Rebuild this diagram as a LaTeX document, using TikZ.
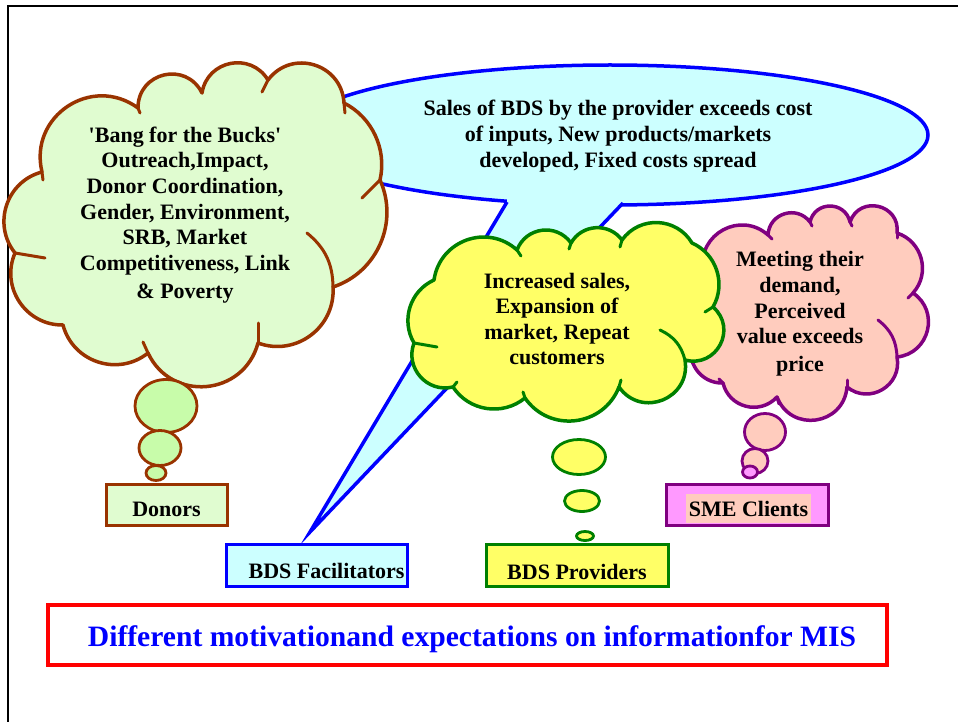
\documentclass[tikz,border=0pt]{standalone}
\usepackage{fontspec}
\setmainfont{Liberation Serif}
\definecolor{donorline}{HTML}{993300}
\definecolor{donorfill}{HTML}{E0FCD0}
\definecolor{donorbubble}{HTML}{C8FCAA}
\definecolor{speechline}{HTML}{0000FF}
\definecolor{speechfill}{HTML}{CCFFFF}
\definecolor{provline}{HTML}{008000}
\definecolor{provfill}{HTML}{FFFF66}
\definecolor{smeline}{HTML}{800080}
\definecolor{smefill}{HTML}{FFCCBE}
\definecolor{smebox}{HTML}{FF99FF}
\definecolor{titleline}{HTML}{FF0000}
\definecolor{titletext}{HTML}{0000FF}
\begin{document}
\begin{tikzpicture}[x=1pt,y=-1pt,
  % bumps of the cloud outlines, named by their depth
  sag18/.style={bend left=38,looseness=0.95},
  sag22/.style={bend left=48,looseness=1.02},
  sag27/.style={bend left=57,looseness=1.10},
  sag30/.style={bend left=62,looseness=1.16},
  sag35/.style={bend left=70,looseness=1.27},
  sag40/.style={bend left=77,looseness=1.40},
  sag45/.style={bend left=84,looseness=1.54},
  puffline/.style={line width=3.5pt,line join=round},
  crease/.style={line width=3pt,line cap=round},
  bubble/.style={line width=2.8pt},
  cloudtext/.style={font=\fontsize{22}{25.6}\selectfont\bfseries,align=center,inner sep=0pt},
  labeltext/.style={font=\fontsize{22}{25.6}\selectfont\bfseries,inner sep=0pt},
  boxshape/.style={rectangle,line width=3.2pt,inner sep=0pt,minimum height=41pt}]
\useasboundingbox (0,0) rectangle (958,722);

% page frame
\draw[line width=2pt] (8,722) -- (8,6) -- (958,6);

% speech callout of the facilitators
\coordinate (tailL) at (507,202);
\coordinate (tailTip) at (310,532);
\coordinate (tailR) at (623,203);
\draw[line width=3.5pt,draw=speechline,fill=speechfill] (610,135) ellipse [x radius=318pt,y radius=70pt];
\fill[speechfill] (507,190) -- (tailL) -- (tailTip) -- (tailR) -- (623,190) -- cycle;
\draw[line width=3.5pt,draw=speechline] (tailL) -- (tailTip) -- (tailR);

% donors cloud
\coordinate (dA) at (138,108);
\coordinate (dB) at (202,93);
\coordinate (dC) at (268,80);
\coordinate (dD) at (344,103);
\coordinate (dE) at (380,180);
\coordinate (dF) at (333,287);
\coordinate (dG) at (258,343);
\coordinate (dH) at (148,353);
\coordinate (dI) at (63,325);
\coordinate (dJ) at (15,253);
\coordinate (dK) at (42,172);
\draw[puffline,draw=donorline,fill=donorfill]
  (dA) to[sag40] (dB) to[sag35] (dC) to[sag35] (dD) to[sag18] (dE)
  to[sag22] (dF) to[sag27] (dG) to[sag35] (dH) to[sag27] (dI)
  to[sag27] (dJ) to[sag27] (dK) to[sag35] (dA) -- cycle;
\draw[crease,donorline] (307,233) to[bend left=25] (dF);
\draw[crease,donorline] (dE) -- (362,198);
\draw[crease,donorline] (dG) -- (258,323);
\draw[crease,donorline] (dH) -- (143,342);
\draw[crease,donorline] (dJ) -- (45,258);
\draw[crease,donorline] (dD) -- (345,113);
\draw[crease,donorline] (dC) -- (262,92);
\draw[crease,donorline] (dA) -- (140,113);
\draw[crease,donorline] (dK) -- (43,180);

% SME clients cloud
\coordinate (pA) at (768,235);
\coordinate (pB) at (810,222);
\coordinate (pC) at (850,222);
\coordinate (pD) at (897,233);
\coordinate (pE) at (913,293);
\coordinate (pF) at (897,357);
\coordinate (pG) at (847,387);
\coordinate (pH) at (777,397);
\coordinate (pI) at (723,383);
\coordinate (pJ) at (693,340);
\coordinate (pK) at (703,270);
\draw[puffline,draw=smeline,fill=smefill]
  (pA) to[sag35] (pB) to[sag40] (pC) to[sag45] (pD) to[sag27] (pE)
  to[sag35] (pF) to[sag35] (pG) to[sag40] (pH) to[sag30] (pI)
  to[sag27] (pJ) to[sag35] (pK) to[sag35] (pA) -- cycle;
\draw[crease,smeline] (878,320) to[bend left=25] (pF);
\draw[crease,smeline] (pA) -- (772,239);
\draw[crease,smeline] (pB) -- (812,226);
\draw[crease,smeline] (pC) -- (852,226);
\draw[crease,smeline] (pD) -- (897,238);
\draw[crease,smeline] (pE) -- (908,298);
\draw[crease,smeline] (pG) -- (847,380);
\draw[crease,smeline] (pH) -- (779,404);
\draw[crease,smeline] (pI) -- (719,379);

% BDS providers cloud
\coordinate (yA) at (517,250);
\coordinate (yB) at (571,243);
\coordinate (yC) at (622,240);
\coordinate (yD) at (692,243);
\coordinate (yE) at (713,307);
\coordinate (yF) at (685,360);
\coordinate (yG) at (619,387);
\coordinate (yH) at (525,398);
\coordinate (yI) at (453,387);
\coordinate (yJ) at (414,343);
\coordinate (yK) at (434,280);
\draw[puffline,draw=provline,fill=provfill]
  (yA) to[sag30] (yB) to[sag27] (yC) to[sag27] (yD) to[sag22] (yE)
  to[sag40] (yF) to[sag40] (yG) to[sag30] (yH) to[sag22] (yI)
  to[sag30] (yJ) to[sag22] (yK) to[sag30] (yA) -- cycle;
\draw[crease,provline] (660,330) to[bend left=25] (yF);
\draw[crease,provline] (yA) -- (521,256);
\draw[crease,provline] (yB) -- (569,249);
\draw[crease,provline] (yC) -- (620,247);
\draw[crease,provline] (yE) -- (705,312);
\draw[crease,provline] (yG) -- (621,380);
\draw[crease,provline] (yH) -- (523,392);
\draw[crease,provline] (yI) -- (457,382);
\draw[crease,provline] (yJ) -- (437,347);

% texts inside the clouds
\node[cloudtext] (donorsText) at (185,215)
  {\textquotesingle Bang for the Bucks\textquotesingle\\Outreach,Impact,\\Donor Coordination,\\Gender, Environment,\\SRB, Market\\Competitiveness, Link\\[2.5pt]\& Poverty};
\node[cloudtext] (facText) at (618,136)
  {Sales of BDS by the provider exceeds cost\\of inputs, New products/markets\\developed, Fixed costs spread};
\node[cloudtext] (provText) at (557,319)
  {Increased sales,\\Expansion of\\market, Repeat\\customers};
\node[cloudtext] (smeText) at (800,314)
  {Meeting their\\demand,\\Perceived\\value exceeds\\[2.5pt]price};

% thought bubbles
\draw[bubble,draw=donorline,fill=donorbubble] (166,406) ellipse [x radius=31pt,y radius=26.5pt];
\draw[bubble,draw=donorline,fill=donorbubble] (160,448) ellipse [x radius=21pt,y radius=17.5pt];
\draw[bubble,draw=donorline,fill=donorbubble] (156,473) ellipse [x radius=10pt,y radius=7.5pt];
\draw[bubble,draw=provline,fill=provfill] (579,457) ellipse [x radius=26.5pt,y radius=17.5pt];
\draw[bubble,draw=provline,fill=provfill] (582,501) ellipse [x radius=17.5pt,y radius=10.5pt];
\draw[bubble,draw=provline,fill=provfill] (585,536) ellipse [x radius=8.5pt,y radius=4.5pt];
\draw[bubble,draw=smeline,fill=smefill] (765,432) ellipse [x radius=20.5pt,y radius=18.5pt];
\draw[bubble,draw=smeline,fill=smefill] (755,461) ellipse [x radius=13pt,y radius=12.5pt];
\draw[bubble,draw=smeline,fill=smebox] (750,472) ellipse [x radius=7.5pt,y radius=6pt];

% stakeholder boxes
\node[boxshape,draw=donorline,fill=donorfill,minimum width=121pt] (donorsBox) at (167,505) {};
\node[labeltext] (donorsLabel) at (166.5,509.5) {Donors};
\node[boxshape,draw=speechline,fill=speechfill,minimum width=181pt,minimum height=42pt] (facBox) at (317,565.5) {};
\node[labeltext] (facLabel) at (326.5,570.5) {BDS Facilitators};
\node[boxshape,draw=provline,fill=provfill,minimum width=182pt,minimum height=42pt] (provBox) at (577.5,565.5) {};
\node[labeltext] (provLabel) at (577,572) {BDS Providers};
\node[boxshape,draw=smeline,fill=smebox,minimum width=162pt] (smeBox) at (747.5,505) {};
\node[labeltext,fill=smefill,inner xsep=2.5pt,inner ysep=7pt] (smeLabel) at (748.5,508.5) {SME Clients};

% caption
\node[rectangle,draw=titleline,line width=4pt,minimum width=839pt,minimum height=60pt,inner sep=0pt] (titleBox) at (467.5,635) {};
\node[font=\fontsize{29.6}{32}\selectfont\bfseries,text=titletext,inner sep=0pt] (titleText) at (472,639)
  {Different motivationand expectations on informationfor MIS};
\end{tikzpicture}
\end{document}
